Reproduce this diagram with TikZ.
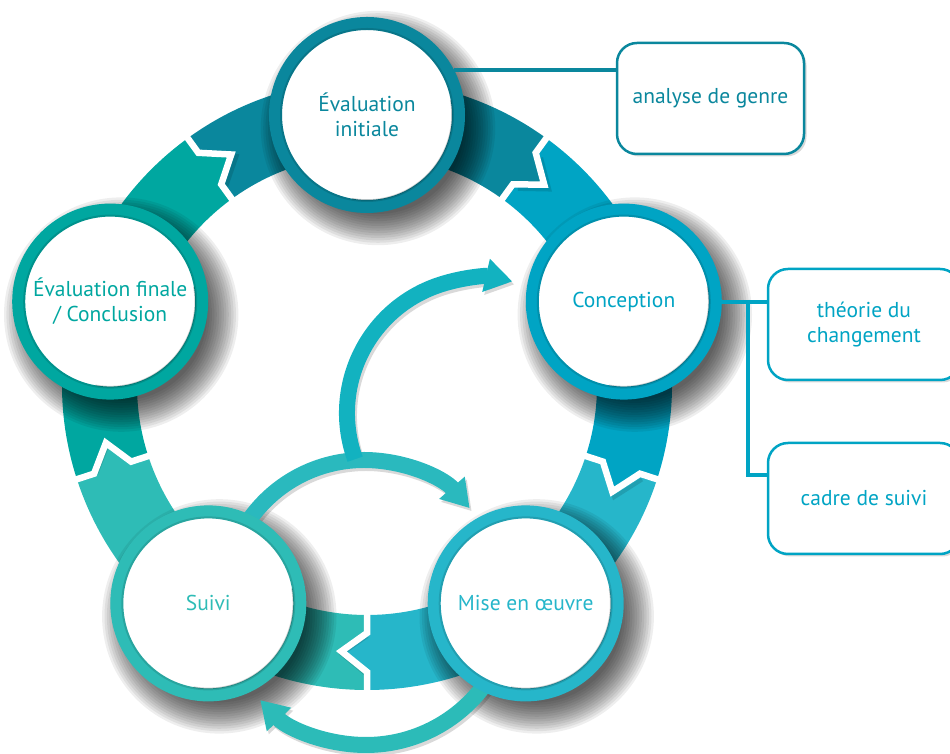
\documentclass[tikz,border=0pt]{standalone}
\usepackage{fontspec}
\setmainfont{PT Sans}
\usetikzlibrary{shadows,arrows.meta}
\definecolor{colEI}{HTML}{0A879D}
\definecolor{colC}{HTML}{00A4C4}
\definecolor{colM}{HTML}{26B6CA}
\definecolor{colS}{HTML}{2EBCB6}
\definecolor{colEF}{HTML}{00A7A0}
\definecolor{colArcA}{HTML}{2AB9BE}
\definecolor{colArcB}{HTML}{12B2C0}
\definecolor{colArcC}{HTML}{2CBBB8}
\newcommand{\bandpiece}[3]{%
  \fill[#3] (#1:305) arc[start angle=#1, end angle=#2, radius=305]
    -- (#2:287) -- ({#2-5.5}:267.5) -- (#2:248) -- (#2:230)
    arc[start angle=#2, end angle=#1, radius=230]
    -- (#1:248) -- ({#1-5.5}:267.5) -- (#1:287) -- cycle;}
\newcommand{\bandcut}[1]{%
  \draw[black, opacity=.12, line width=4pt, line join=miter, xshift=3pt, yshift=-3pt]
    ({#1-0.6}:287) -- ({#1-6.1}:267.5) -- ({#1-0.6}:248);
  \draw[white, line width=6.5pt, line join=miter]
    (#1:309) -- (#1:287) -- ({#1-5.5}:267.5) -- (#1:248) -- (#1:226);}
\newcommand{\softshadow}[1]{%
  \foreach \k in {0,...,13}{\fill[black, opacity=.065] ([shift={(11,-13)}]#1) circle[radius={86+2.4*\k}];}}
\begin{document}
\begin{tikzpicture}[x=1pt,y=1pt,
  stage/.style={circle, fill=white, draw=#1, line width=13pt, minimum size=183pt,
    inner sep=0pt, align=center, text=#1, font=\fontsize{21.5}{25}\selectfont},
  infobox/.style={draw=#1, line width=2.5pt, rounded corners=20pt, fill=white,
    align=center, text=#1, font=\fontsize{21.5}{25}\selectfont, inner sep=0pt,
    drop shadow={shadow xshift=2.5pt, shadow yshift=-2.5pt, opacity=.3, fill=black!50}},
  link/.style={draw=#1, line width=4pt},
  flow/.style={draw=#1, line width=16pt, -{Triangle[length=27pt,width=32pt]}},
]
\useasboundingbox (0,0) rectangle (950,754);
\clip (0,0) rectangle (950,754);
\coordinate (O) at (367,369);
\coordinate (pEI) at (367,639);
\coordinate (pC) at (623.8,452.4);
\coordinate (pM) at (525.7,150.6);
\coordinate (pS) at (208.3,150.6);
\coordinate (pEF) at (110.2,452.4);
% ring of arrows
\begin{scope}[shift={(367,369)}]
  \bandpiece{126}{54}{colEI}
  \bandpiece{54}{-18}{colC}
  \bandpiece{-18}{-90}{colM}
  \bandpiece{-90}{-162}{colS}
  \bandpiece{198}{126}{colEF}
  \bandcut{126}\bandcut{54}\bandcut{-18}\bandcut{-90}\bandcut{198}
\end{scope}
% shadows of the stages
\softshadow{pEI}\softshadow{pC}\softshadow{pM}\softshadow{pS}\softshadow{pEF}
% inner arrows
\begin{scope}[opacity=.15, xshift=2pt, yshift=-3pt]
\draw[flow=black] ([shift={(150:140)}]364,154) arc[start angle=150, end angle=41, radius=140];
\draw[flow=black] ([shift={(200:135)}]482,341) arc[start angle=200, end angle=77, radius=135];
\draw[flow=black] ([shift={(-30:147)}]366,156) arc[start angle=-30, end angle=-136, radius=147];
\end{scope}
\draw[flow=colArcA] ([shift={(150:140)}]364,154) arc[start angle=150, end angle=41, radius=140];
\draw[flow=colArcB] ([shift={(200:135)}]482,341) arc[start angle=200, end angle=77, radius=135];
\draw[flow=colArcC] ([shift={(-30:147)}]366,156) arc[start angle=-30, end angle=-136, radius=147];
% stages
\node[stage=colEI] (EI) at (pEI) {Évaluation\\initiale};
\node[stage=colC] (C) at (pC) {Conception};
\node[stage=colM] (M) at (pM) {Mise en œuvre};
\node[stage=colS] (S) at (pS) {Suivi};
\node[stage=colEF] (EF) at (pEF) {Évaluation finale\\/ Conclusion};
\foreach \n in {EI,C,M,S,EF}{
  \draw[black, opacity=.12, line width=2pt] (\n.center) circle[radius=86];
  \draw[black, opacity=.18, line width=1.5pt] ([shift={(-100:85)}]\n.center) arc[start angle=-100, end angle=10, radius=85];
}
% boxes
\node[infobox=colEI, minimum width=187pt, minimum height=111pt] (B1) at (710.5,655.5) {analyse de genre};
\node[infobox=colC, minimum width=192pt, minimum height=111pt] (B2) at (864,429.5) {théorie du\\changement};
\node[infobox=colC, minimum width=192pt, minimum height=111pt] (B3) at (864,255.5) {cadre de suivi};
% links
\draw[link=colEI] (EI.27) -- (EI.27 -| B1.west);
\draw[link=colC] (C.east) -- (C.east -| B2.west);
\coordinate (Cbr) at ([xshift=26pt]C.east);
\draw[link=colC] ([yshift=2pt]Cbr) |- ([yshift=23pt]B3.west);
\end{tikzpicture}
\end{document}
